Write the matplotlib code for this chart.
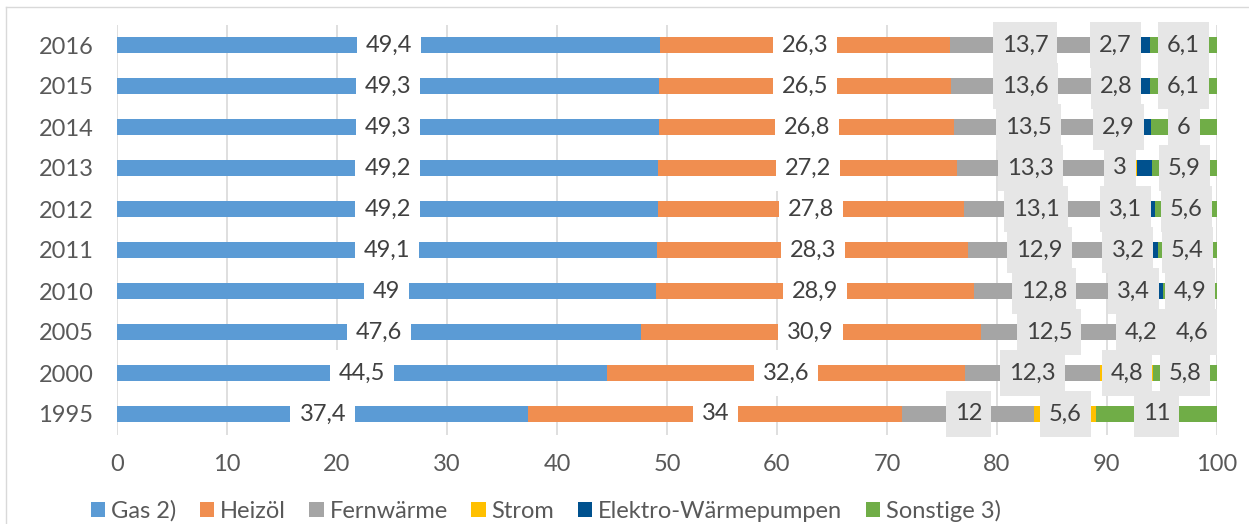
import matplotlib
matplotlib.use("Agg")
import matplotlib.pyplot as plt
from matplotlib.patches import Patch
from matplotlib.lines import Line2D
from matplotlib.path import Path

years = ["1995", "2000", "2005", "2010", "2011", "2012", "2013", "2014", "2015", "2016"]
gas = [37.4, 44.5, 47.6, 49.0, 49.1, 49.2, 49.2, 49.3, 49.3, 49.4]
heizoel = [34.0, 32.6, 30.9, 28.9, 28.3, 27.8, 27.2, 26.8, 26.5, 26.3]
fernwaerme = [12.0, 12.3, 12.5, 12.8, 12.9, 13.1, 13.3, 13.5, 13.6, 13.7]
strom = [5.6, 4.8, 4.2, 3.4, 3.2, 3.1, 3.0, 2.9, 2.8, 2.7]
waermepumpen = [0.0, 0.0, 0.2, 1.0, 1.1, 1.2, 1.4, 1.5, 1.7, 1.8]
sonstige = [11.0, 5.8, 4.6, 4.9, 5.4, 5.6, 5.9, 6.0, 6.1, 6.1]

series_names = ["Gas 2)", "Heizöl", "Fernwärme", "Strom", "Elektro-Wärmepumpen", "Sonstige 3)"]
x_ticks = [0, 10, 20, 30, 40, 50, 60, 70, 80, 90, 100]

plt.rcParams["font.family"] = ["Lato", "DejaVu Sans"]

series = [gas, heizoel, fernwaerme, strom, waermepumpen, sonstige]
colors = ["#5B9BD5", "#F08E50", "#A5A5A5", "#FFC000", "#00518E", "#70AD47"]
# label box fill per series (None = no labels)
label_bg = ["white", "white", "#E6E6E6", "#E6E6E6", None, "#E6E6E6"]


def label_box(x0, y0, width, height, mutation_size):
    """Rectangular label background with separate horizontal/vertical padding."""
    px = 0.38 * mutation_size
    py = 0.52 * mutation_size
    verts = [(x0 - px, y0 - py), (x0 + width + px, y0 - py),
             (x0 + width + px, y0 + height + py), (x0 - px, y0 + height + py),
             (x0 - px, y0 - py)]
    return Path(verts, closed=True)


W, H = 1249, 524
fig = plt.figure(figsize=(W / 100, H / 100), dpi=100)
ax = fig.add_axes([117 / W, 1 - 434.5 / H, 1100 / W, 410 / H])

ypos = list(range(len(years)))
left = [0.0] * len(years)
fs = 17
for vals, col, bg in zip(series, colors, label_bg):
    ax.barh(ypos, vals, left=left, height=0.41, color=col, zorder=2)
    if bg is not None:
        for y, l, v in zip(ypos, left, vals):
            txt = f"{v:g}".replace(".", ",")
            ax.text(l + v / 2, y, txt, ha="center", va="center", fontsize=fs,
                    color="#404040", zorder=4,
                    bbox=dict(boxstyle=label_box, fc=bg, ec="none"))
    left = [a + b for a, b in zip(left, vals)]

ax.set_xlim(0, 100)
ax.set_ylim(-0.5, len(years) - 0.5)
ax.set_xticks(x_ticks)
ax.set_yticks(ypos)
ax.set_yticklabels(years)
ax.grid(axis="x", color="#D9D9D9", linewidth=1.2, zorder=0)
ax.set_axisbelow(True)
for s in ax.spines.values():
    s.set_visible(False)
ax.tick_params(axis="x", length=0, pad=14, labelsize=fs, labelcolor="#595959")
ax.tick_params(axis="y", length=0, pad=17, labelsize=fs, labelcolor="#595959")

handles = [Patch(facecolor=c, edgecolor="none") for c in colors]
fig.legend(handles, series_names, loc="center left",
           bbox_to_anchor=(91 / W, 1 - 511 / H), ncol=6, frameon=False,
           fontsize=fs, labelcolor="#595959", handlelength=0.6, handleheight=0.6,
           handletextpad=0.25, columnspacing=1.0, borderaxespad=0, borderpad=0)

# chart-area outline (top and left edges)
fig.add_artist(Line2D([5.5 / W, 1], [1 - 7 / H, 1 - 7 / H], transform=fig.transFigure,
                      color="#D9D9D9", lw=1))
fig.add_artist(Line2D([5.5 / W, 5.5 / W], [0, 1 - 7 / H], transform=fig.transFigure,
                      color="#D9D9D9", lw=1))

fig.savefig("out.png", dpi=100)
